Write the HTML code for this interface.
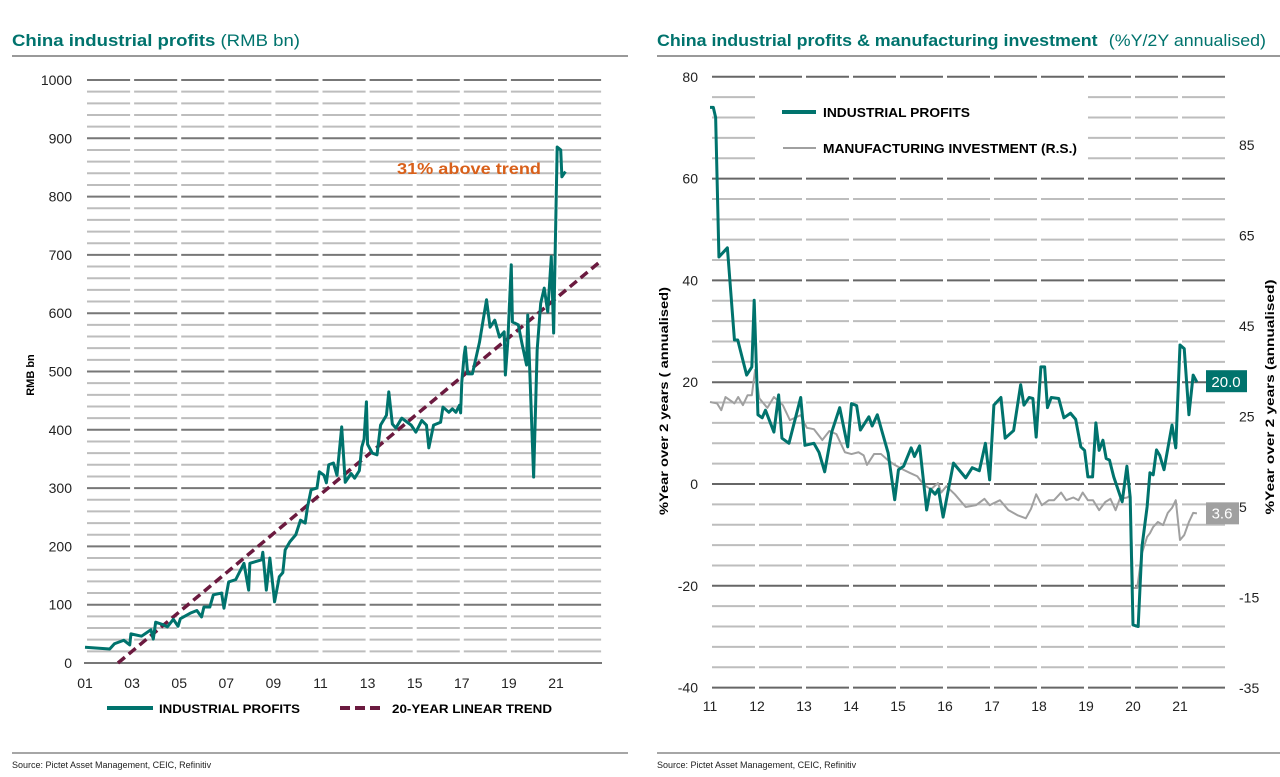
<!DOCTYPE html>
<html><head><meta charset="utf-8"><style>
html,body{margin:0;padding:0;background:#fff;}
svg{display:block;font-family:"Liberation Sans",sans-serif;}
</style></head><body>
<svg id="svg" width="1280" height="777" viewBox="0 0 1280 777" xmlns="http://www.w3.org/2000/svg">
<g id="left"></g>
<g id="right"></g>
<text x="12" y="46" font-size="17" fill="#00736d" font-weight="bold" textLength="288" lengthAdjust="spacingAndGlyphs">China industrial profits <tspan font-weight="normal">(RMB bn)</tspan></text>
<line x1="12" y1="56" x2="628" y2="56" stroke="#333" stroke-width="1"/>
<text x="657" y="46" font-size="17" fill="#00736d" font-weight="bold" textLength="609" lengthAdjust="spacingAndGlyphs">China industrial profits &amp; manufacturing investment <tspan font-weight="normal" dx="6">(%Y/2Y annualised)</tspan></text>
<line x1="657" y1="56" x2="1280" y2="56" stroke="#333" stroke-width="1"/>
<line x1="12" y1="753" x2="628" y2="753" stroke="#888" stroke-width="1.5"/>
<line x1="657" y1="753" x2="1280" y2="753" stroke="#888" stroke-width="1.5"/>
<text x="12" y="768" font-size="9" fill="#222">Source: Pictet Asset Management, CEIC, Refinitiv</text>
<text x="657" y="768" font-size="9" fill="#222">Source: Pictet Asset Management, CEIC, Refinitiv</text>
<text x="397" y="174" font-size="16" font-weight="bold" fill="#d9601a" textLength="144" lengthAdjust="spacingAndGlyphs">31% above trend</text>
<text transform="translate(34,375) rotate(-90)" font-size="11" font-weight="bold" text-anchor="middle">RMB bn</text>
<text transform="translate(668,401) rotate(-90)" font-size="12" font-weight="bold" textLength="228" lengthAdjust="spacingAndGlyphs" text-anchor="middle">%Year over 2 years ( annualised)</text>
<text transform="translate(1274,397) rotate(-90)" font-size="12" font-weight="bold" textLength="235" lengthAdjust="spacingAndGlyphs" text-anchor="middle">%Year over 2 years (annualised)</text>
<line x1="107" y1="708" x2="153" y2="708" stroke="#00736d" stroke-width="4"/>
<text x="159" y="713" font-size="12" font-weight="bold" textLength="141" lengthAdjust="spacingAndGlyphs">INDUSTRIAL PROFITS</text>
<line x1="340" y1="708" x2="382" y2="708" stroke="#6b1a3f" stroke-width="4" stroke-dasharray="10,5"/>
<text x="392" y="713" font-size="12" font-weight="bold" textLength="160" lengthAdjust="spacingAndGlyphs">20-YEAR LINEAR TREND</text>
</svg>
<script>
// ---- Left chart data ----
const leftYears=[2001,2002.05,2002.25,2002.65,2002.9,2002.95,2003.4,2003.8,2003.9,2004,2004.3,2004.5,2004.75,2004.95,2005.05,2005.5,2005.75,2005.95,2006.05,2006.3,2006.45,2006.8,2006.9,2007.1,2007.4,2007.75,2007.95,2008,2008.5,2008.55,2008.7,2008.85,2009.05,2009.25,2009.4,2009.5,2009.7,2009.95,2010.15,2010.35,2010.45,2010.6,2010.85,2010.95,2011.15,2011.25,2011.35,2011.55,2011.7,2011.9,2012.05,2012.3,2012.45,2012.65,2012.75,2012.85,2012.95,2013,2013.2,2013.4,2013.55,2013.8,2013.9,2014.05,2014.2,2014.45,2014.65,2014.85,2015.05,2015.3,2015.5,2015.6,2015.8,2016.1,2016.2,2016.45,2016.6,2016.75,2016.9,2016.95,2017,2017.1,2017.15,2017.25,2017.45,2017.75,2018.05,2018.2,2018.4,2018.6,2018.8,2018.85,2018.95,2019.1,2019.15,2019.4,2019.55,2019.75,2019.8,2020.05,2020.2,2020.35,2020.5,2020.65,2020.8,2020.9,2021.05,2021.2,2021.25,2021.4];
const leftProfits=[27,24,33,39,31,50,46,57,41,70,66,62,75,63,76,86,90,79,96,96,117,120,94,139,143,171,125,171,177,190,125,180,105,148,155,194,208,220,245,240,268,297,300,328,322,309,340,343,322,405,310,325,317,330,370,384,448,375,360,357,408,425,465,410,403,420,414,408,396,416,408,369,408,413,439,430,436,430,442,429,482,528,542,496,496,550,623,576,588,559,568,494,549,683,585,580,549,511,597,319,537,617,643,602,697,566,885,880,834,843];
const trendYears=[2002.4,2022.8];
const trendValues=[0,686];
const leftYTicks=[0,100,200,300,400,500,600,700,800,900,1000];
const leftXTicks=[2001,2003,2005,2007,2009,2011,2013,2015,2017,2019,2021];

// ---- Right chart data ----
const rightYearsIP=[2011.0,2011.07,2011.12,2011.19,2011.37,2011.52,2011.59,2011.78,2011.89,2011.94,2012.02,2012.11,2012.18,2012.36,2012.46,2012.53,2012.68,2012.93,2013.02,2013.21,2013.32,2013.44,2013.59,2013.76,2013.93,2014.01,2014.12,2014.2,2014.38,2014.45,2014.56,2014.67,2014.79,2014.93,2015.01,2015.12,2015.28,2015.35,2015.46,2015.61,2015.69,2015.79,2015.86,2015.96,2016.18,2016.44,2016.58,2016.73,2016.86,2016.95,2017.04,2017.19,2017.28,2017.46,2017.61,2017.68,2017.79,2017.87,2017.94,2018.04,2018.12,2018.18,2018.26,2018.42,2018.53,2018.67,2018.78,2018.89,2018.97,2019.04,2019.14,2019.21,2019.28,2019.36,2019.43,2019.5,2019.59,2019.77,2019.87,2019.94,2020.0,2020.11,2020.19,2020.3,2020.36,2020.43,2020.5,2020.57,2020.66,2020.83,2020.91,2021.0,2021.09,2021.19,2021.28,2021.36];
const industrialProfits=[74,74,72,44.6,46.4,28.3,28.3,21.4,23,36.1,13.6,13,14.5,10.2,17.5,9,8,17,7.6,8,6.2,2.4,10.2,15,7.3,15.8,15.4,10.6,13.2,11.4,13.6,10,6.1,-3.1,2.8,3.5,7.1,5.4,7.5,-5.1,-1,-2,-1,-6.5,4.1,1.2,3.2,2.6,8,0.8,15.5,17,9,10.5,19.5,15.5,17,16.8,9.2,23,23,15,17,16.8,13,13.9,12.7,7.3,6.6,1.4,1.4,12,6.6,8.6,5,4.7,1.4,-3.5,3.5,-2.6,-27.7,-28,-12.4,-4.5,2.2,1.8,6.7,5.6,2.8,11.6,7.1,27.3,26.6,13.6,21.4,20.0];
const rightYearsMI=[2011.0,2011.15,2011.24,2011.33,2011.52,2011.6,2011.7,2011.8,2011.89,2011.96,2012.05,2012.22,2012.36,2012.55,2012.7,2012.93,2013.06,2013.21,2013.39,2013.54,2013.69,2013.87,2014.01,2014.16,2014.27,2014.34,2014.49,2014.64,2014.79,2014.93,2015.12,2015.26,2015.41,2015.55,2015.7,2015.85,2015.92,2016.03,2016.21,2016.44,2016.66,2016.84,2016.95,2017.17,2017.35,2017.54,2017.72,2017.83,2017.94,2018.06,2018.21,2018.32,2018.47,2018.58,2018.73,2018.84,2018.93,2019.04,2019.15,2019.28,2019.41,2019.52,2019.63,2019.72,2019.88,2019.94,2020.0,2020.09,2020.19,2020.3,2020.36,2020.43,2020.53,2020.64,2020.74,2020.83,2020.91,2021.0,2021.09,2021.19,2021.28,2021.36];
const manufacturingInvestment=[28.2,27.9,26.4,29.3,27.9,29.3,27.5,29.7,29.7,35.3,29,26.9,29.3,27.5,24.2,25.3,22.5,22.2,19.8,21.8,21.1,17.1,16.7,17.1,16.4,14.3,16.7,16.7,15.3,14.3,13.2,12.5,11.8,9.9,8.9,10.3,8.2,9.6,7.8,5,5.4,6.8,5.4,6.5,4.3,3.2,2.5,4.6,7.8,5.4,6.5,6.5,8.2,6.5,7.1,6.5,8.2,6.5,6.5,4.3,6.1,6.8,4.3,6.8,7.1,7.6,-12.9,-12.9,-5.2,-1.6,-0.8,0.6,1.7,1.0,3.7,4.8,6.5,-2.3,-1.2,1.7,3.7,3.6];
const rightYTicksL=[80,60,40,20,0,-20,-40];
const rightYTicksR=[85,65,45,25,5,-15,-35];
const rightXTicks=[2011,2012,2013,2014,2015,2016,2017,2018,2019,2020,2021];
const ipLabel="20.0";
const miLabel="3.6";

const NS="http://www.w3.org/2000/svg";
function mk(parent,tag,attrs){const e=document.createElementNS(NS,tag);for(const k in attrs)e.setAttribute(k,attrs[k]);parent.appendChild(e);return e;}

// Left axes
const lx=y=>85+(y-2001)*23.55;
const ly=v=>663-v*0.583;
const L=document.getElementById('left');
for(let v=20;v<=1000;v+=20){
  for(let yr=2001;yr<2023;yr+=2){
    const l=mk(L,'line',{x1:lx(yr)+2,x2:lx(yr+2)-2,y1:ly(v),y2:ly(v),stroke:v%100===0?'#777':'#bdbdbd','stroke-width':2});
    
    
  }
}
const lax=mk(L,'line',{x1:84,x2:602,y1:ly(0),y2:ly(0),stroke:'#777','stroke-width':2});


leftYTicks.forEach(v=>{const t=mk(L,'text',{x:72,y:ly(v)+5,'font-size':14,'text-anchor':'end',fill:'#222'});t.textContent=v;
  
  });
leftXTicks.forEach(y=>{const t=mk(L,'text',{x:lx(y),y:688,'font-size':14,'text-anchor':'middle',fill:'#222'});t.textContent=String(y%100).padStart(2,'0');
  
  });
const tr=mk(L,'line',{x1:lx(trendYears[0]),y1:ly(trendValues[0]),x2:lx(trendYears[1]),y2:ly(trendValues[1]),stroke:'#6b1a3f','stroke-width':3.5,'stroke-dasharray':'9,5'});


const lp=mk(L,'polyline',{points:leftYears.map((y,i)=>lx(y)+','+ly(leftProfits[i])).join(' '),fill:'none',stroke:'#00736d','stroke-width':3,'stroke-linejoin':'round'});



// Right axes
const rx=y=>710+(y-2011)*47;
const ry=v=>484-v*5.09;
const rry=v=>507-(v-5)*4.525;
const R=document.getElementById('right');
for(let v=-40;v<=80;v+=4){
  for(let yr=2011;yr<2022;yr++){
    const xa=rx(yr)+2,xb=rx(yr+1)-2;
    if(v>=64&&v<=76&&xa>750&&xb<1100)continue;
    const l=mk(R,'line',{x1:xa,x2:xb,y1:ry(v),y2:ry(v),stroke:v%20===0?'#666':'#bdbdbd','stroke-width':2});
    
    
  }
}
rightYTicksL.forEach(v=>{const t=mk(R,'text',{x:698,y:ry(v)+5,'font-size':14,'text-anchor':'end',fill:'#222'});t.textContent=v;
  
  });
rightYTicksR.forEach(v=>{const t=mk(R,'text',{x:1239,y:rry(v)+5,'font-size':14,fill:'#222'});t.textContent=v;
  
  });
rightXTicks.forEach(y=>{const t=mk(R,'text',{x:rx(y),y:711,'font-size':14,'text-anchor':'middle',fill:'#222'});t.textContent=String(y%100).padStart(2,'0');
  
  });
const mi=mk(R,'polyline',{points:rightYearsMI.map((y,i)=>rx(y)+','+rry(manufacturingInvestment[i])).join(' '),fill:'none',stroke:'#a0a0a0','stroke-width':2,'stroke-linejoin':'round'});


const ip=mk(R,'polyline',{points:rightYearsIP.map((y,i)=>rx(y)+','+ry(industrialProfits[i])).join(' '),fill:'none',stroke:'#00736d','stroke-width':3,'stroke-linejoin':'round'});


// value labels
const ipv=industrialProfits[industrialProfits.length-1], miv=manufacturingInvestment[manufacturingInvestment.length-1];
const b1=mk(R,'rect',{x:1206,y:ry(ipv)-12,width:41,height:22,fill:'#00736d'});


const t1=mk(R,'text',{x:1226,y:ry(ipv)+5,'font-size':15,fill:'#fff','text-anchor':'middle'});t1.textContent=ipLabel;


const b2=mk(R,'rect',{x:1206,y:rry(miv)-11,width:33,height:22,fill:'#a0a0a0'});


const t2=mk(R,'text',{x:1222,y:rry(miv)+5,'font-size':15,fill:'#fff','text-anchor':'middle'});t2.textContent=miLabel;


// legend
const g1=mk(R,'line',{x1:782,x2:816,y1:112,y2:112,stroke:'#00736d','stroke-width':4});


const g1t=mk(R,'text',{x:823,y:117,'font-size':13,'font-weight':'bold',textLength:147,lengthAdjust:'spacingAndGlyphs'});g1t.textContent='INDUSTRIAL PROFITS';


const g2=mk(R,'line',{x1:783,x2:816,y1:148,y2:148,stroke:'#a0a0a0','stroke-width':2});


const g2t=mk(R,'text',{x:823,y:153,'font-size':13,'font-weight':'bold',textLength:254,lengthAdjust:'spacingAndGlyphs'});g2t.textContent='MANUFACTURING INVESTMENT (R.S.)';


</script>
</body></html>
